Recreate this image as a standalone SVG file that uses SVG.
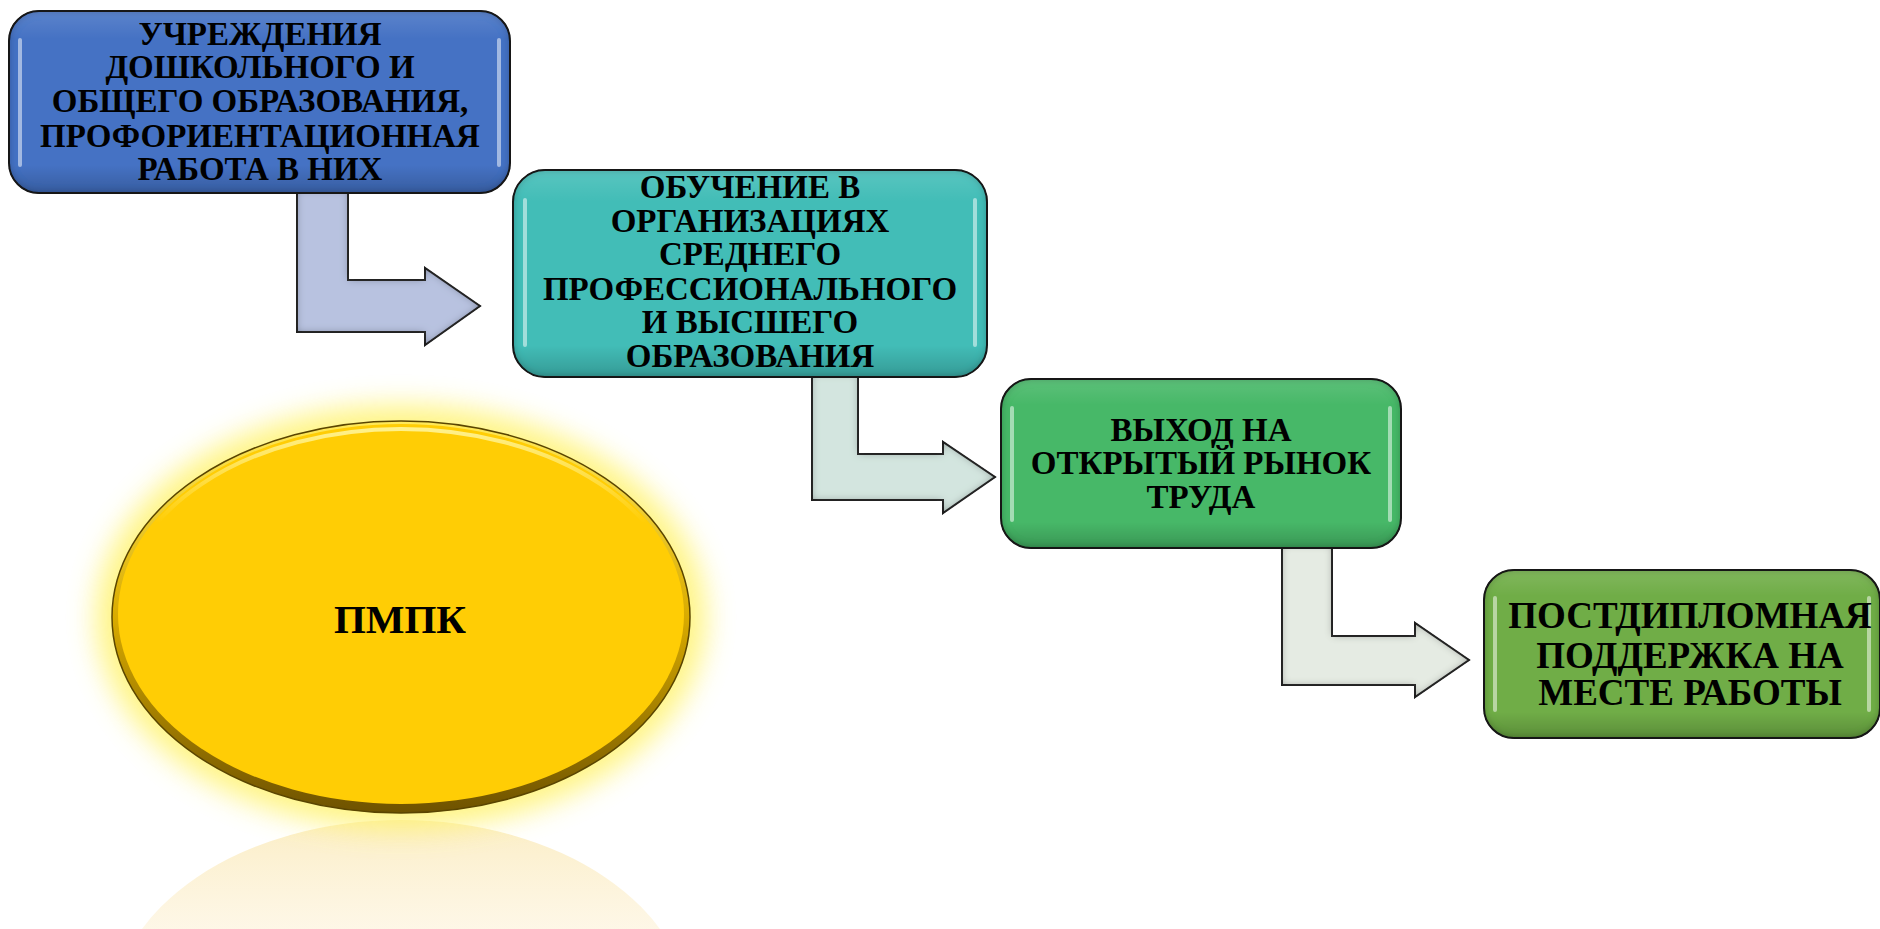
<svg xmlns="http://www.w3.org/2000/svg" width="1880" height="929" viewBox="0 0 1880 929">
  <style>
    .t{font-family:"Liberation Serif","Times New Roman",serif;font-weight:bold;fill:#000;text-anchor:middle}
    .t33{font-size:33px}
    .t37{font-size:37px}
    .t41{font-size:41px}
    .box{stroke:#1c1c1c;stroke-width:2}
    .gloss{fill:url(#boxShade);stroke:none}
    .hl{fill:none;stroke:#ffffff;stroke-opacity:0.5;stroke-width:4;stroke-linecap:round}
    .arrow{stroke:#2e2e2e;stroke-width:2;stroke-linejoin:miter}
  </style>
  <defs>
    <linearGradient id="boxShade" x1="0" y1="0" x2="0" y2="1">
      <stop offset="0" stop-color="#ffffff" stop-opacity="0.12"/>
      <stop offset="0.15" stop-color="#ffffff" stop-opacity="0"/>
      <stop offset="0.85" stop-color="#000000" stop-opacity="0"/>
      <stop offset="1" stop-color="#000000" stop-opacity="0.18"/>
    </linearGradient>
    <filter id="bevel" x="-5%" y="-5%" width="110%" height="110%">
      <feGaussianBlur in="SourceAlpha" stdDeviation="4" result="b"/>
      <feComposite in="SourceAlpha" in2="b" operator="arithmetic" k2="1" k3="-1" result="edge"/>
      <feFlood flood-color="#000000" flood-opacity="0.7"/>
      <feComposite in2="edge" operator="in" result="shade"/>
      <feMerge><feMergeNode in="SourceGraphic"/><feMergeNode in="shade"/></feMerge>
    </filter>
    <filter id="glow" x="-20%" y="-20%" width="140%" height="140%">
      <feGaussianBlur stdDeviation="14"/>
    </filter>
    <linearGradient id="refl" x1="0" y1="0" x2="0" y2="1">
      <stop offset="0" stop-color="#f7dc8c" stop-opacity="0.5"/>
      <stop offset="0.3" stop-color="#fbe6b4" stop-opacity="0.3"/>
      <stop offset="0.6" stop-color="#fdf0d4" stop-opacity="0"/>
    </linearGradient>
    <linearGradient id="ellRim" x1="0" y1="0" x2="0" y2="1">
      <stop offset="0" stop-color="#ffe95a"/>
      <stop offset="0.5" stop-color="#d9ab00"/>
      <stop offset="1" stop-color="#6e5200"/>
    </linearGradient>
    <linearGradient id="ellHl" x1="0" y1="0" x2="0" y2="1">
      <stop offset="0" stop-color="#fff59a" stop-opacity="0.9"/>
      <stop offset="0.25" stop-color="#fff59a" stop-opacity="0"/>
    </linearGradient>
  </defs>

  <rect width="1880" height="929" fill="#ffffff"/>

  <g id="connectors">
    <path class="arrow" fill="#b8c2e0" filter="url(#bevel)" d="M297,190 L297,332 L425,332 L425,345 L480,306 L425,268 L425,280 L348,280 L348,190 Z"/>
    <path class="arrow" fill="#d3e5df" filter="url(#bevel)" d="M812,374 L812,500 L943,500 L943,513 L995,477 L943,442 L943,454 L858,454 L858,374 Z"/>
    <path class="arrow" fill="#e5ebe3" filter="url(#bevel)" d="M1282,545 L1282,685 L1415,685 L1415,697 L1469,660 L1415,623 L1415,636 L1332,636 L1332,545 Z"/>
  </g>

  <g id="node-pmpk">
    <ellipse cx="401" cy="1016" rx="289" ry="196" fill="url(#refl)"/>
    <ellipse cx="401" cy="617" rx="305" ry="212" fill="#fff36e" opacity="0.85" filter="url(#glow)"/>
    <ellipse cx="401" cy="617" rx="289" ry="196" fill="url(#ellRim)" stroke="#5a4500" stroke-width="1.5"/>
    <ellipse cx="401" cy="614" rx="283" ry="190" fill="#ffcd05"/>
    <ellipse cx="401" cy="617" rx="282" ry="188" fill="none" stroke="url(#ellHl)" stroke-width="4"/>
    <text class="t t41" x="400" y="633">ПМПК</text>
  </g>

  <g id="node-1">
    <rect class="box" x="9" y="11" width="501" height="182" rx="30" fill="#4472c4" filter="url(#bevel)"/>
    <rect class="gloss" x="10" y="12" width="499" height="180" rx="29"/>
    <path class="hl" d="M20,40 L20,165 M499,40 L499,165"/>
    <text class="t t33" x="260" y="45">УЧРЕЖДЕНИЯ</text>
    <text class="t t33" x="260" y="78">ДОШКОЛЬНОГО И</text>
    <text class="t t33" x="260" y="112">ОБЩЕГО ОБРАЗОВАНИЯ,</text>
    <text class="t t33" x="260" y="147">ПРОФОРИЕНТАЦИОННАЯ</text>
    <text class="t t33" x="260" y="180">РАБОТА В НИХ</text>
  </g>

  <g id="node-2">
    <rect class="box" x="513" y="170" width="474" height="207" rx="32" fill="#43bdb7" filter="url(#bevel)"/>
    <rect class="gloss" x="514" y="171" width="472" height="205" rx="31"/>
    <path class="hl" d="M525,200 L525,345 M975,200 L975,345"/>
    <text class="t t33" x="750" y="198">ОБУЧЕНИЕ В</text>
    <text class="t t33" x="750" y="232">ОРГАНИЗАЦИЯХ</text>
    <text class="t t33" x="750" y="265">СРЕДНЕГО</text>
    <text class="t t33" x="750" y="300">ПРОФЕССИОНАЛЬНОГО</text>
    <text class="t t33" x="750" y="333">И ВЫСШЕГО</text>
    <text class="t t33" x="750" y="367">ОБРАЗОВАНИЯ</text>
  </g>

  <g id="node-3">
    <rect class="box" x="1001" y="379" width="400" height="169" rx="30" fill="#47b868" filter="url(#bevel)"/>
    <rect class="gloss" x="1002" y="380" width="398" height="167" rx="29"/>
    <path class="hl" d="M1012,408 L1012,520 M1390,408 L1390,520"/>
    <text class="t t33" x="1201" y="441">ВЫХОД НА</text>
    <text class="t t33" x="1201" y="474">ОТКРЫТЫЙ РЫНОК</text>
    <text class="t t33" x="1201" y="508">ТРУДА</text>
  </g>

  <g id="node-4">
    <rect class="box" x="1484" y="570" width="396" height="168" rx="30" fill="#70ad47" filter="url(#bevel)"/>
    <rect class="gloss" x="1485" y="571" width="394" height="166" rx="29"/>
    <path class="hl" d="M1495,598 L1495,710 M1869,598 L1869,710"/>
    <text class="t t37" x="1690" y="628">ПОСТДИПЛОМНАЯ</text>
    <text class="t t37" x="1690" y="668">ПОДДЕРЖКА НА</text>
    <text class="t t37" x="1690" y="705">МЕСТЕ РАБОТЫ</text>
  </g>
</svg>
